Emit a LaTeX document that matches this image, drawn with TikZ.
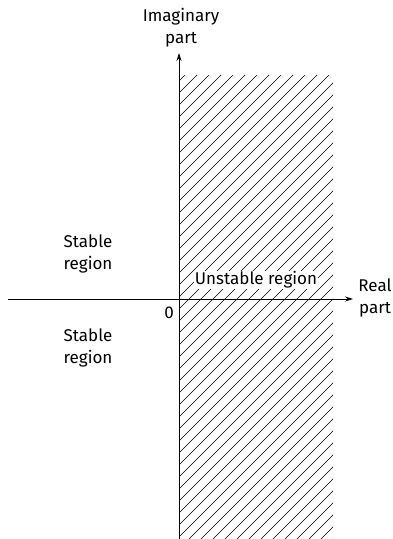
\documentclass[tikz,border=0pt]{standalone}
\usepackage{fontspec}
\setmainfont{Fira Sans}
\usetikzlibrary{arrows.meta,positioning}

\begin{document}
\begin{tikzpicture}[x=1pt,y=-1pt,
  lbl/.style={align=center, font=\fontsize{17}{22}\selectfont, inner sep=1pt},
  axis/.style={-{Stealth[length=8pt,width=5pt]}, line width=0.8pt},
  hatch/.style={line width=0.6pt}
]
  \useasboundingbox (0,0) rectangle (393,539);
  % hatched right half plane
  \begin{scope}
    \clip (179,75) rectangle (333,539);
    \foreach \k in {0,12,...,636}
      \draw[hatch] (179+\k-470,539) -- (179+\k,69);
  \end{scope}
  % axes
  \coordinate (xl) at (8,299);
  \coordinate (xr) at (353,299);
  \coordinate (yb) at (179,539);
  \coordinate (yt) at (179,53);
  \node[lbl, fill=white] (unst) at (256,280) {Unstable region};
  \draw[axis] (xl) -- (xr);
  \draw[axis] (yb) -- (yt);
  \node[lbl] (imag) at (181,28) {Imaginary\\part};
  \node[lbl] (real) at (375,298) {Real\\part};
  \node[lbl] (stab1) at (88,254) {Stable\\region};
  \node[lbl] (stab2) at (88,348) {Stable\\region};
  \node[lbl] (zero) at (169,313) {0};
\end{tikzpicture}
\end{document}
